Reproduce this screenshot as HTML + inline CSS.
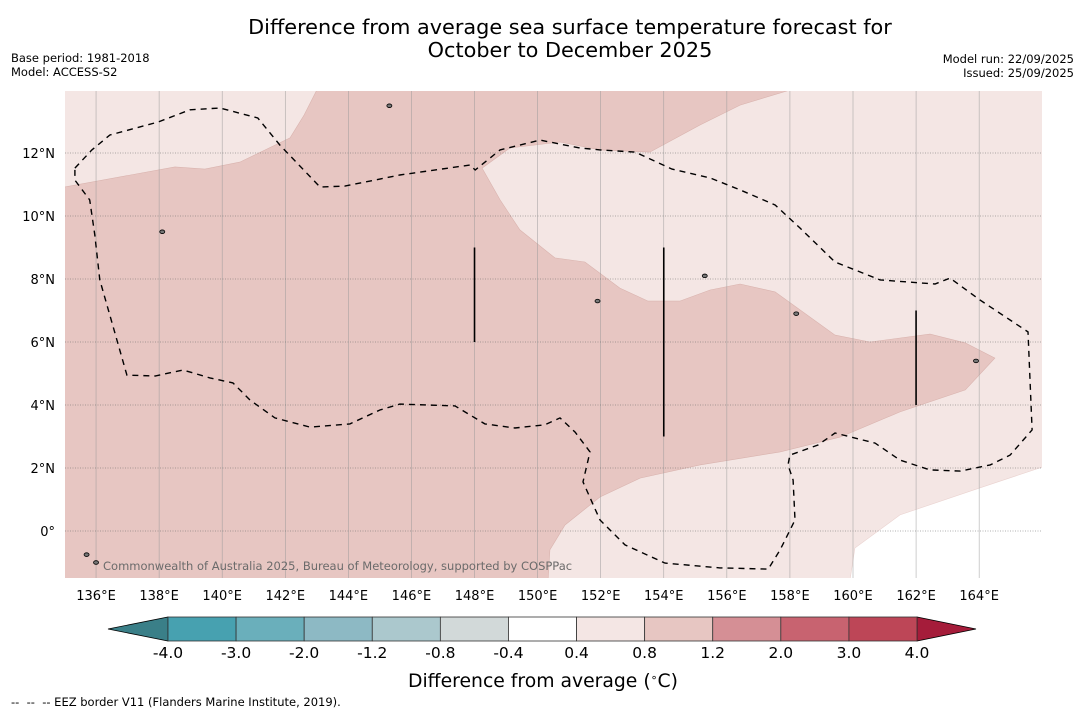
<!DOCTYPE html>
<html><head><meta charset="utf-8"><style>
body{margin:0;background:#fff;width:1085px;height:713px;overflow:hidden;font-family:"DejaVu Sans","Liberation Sans",sans-serif}
</style></head><body>
<svg id="s" width="1085" height="713" xmlns="http://www.w3.org/2000/svg" font-family="DejaVu Sans, Liberation Sans, sans-serif">
<text x="570" y="34" font-size="20.8" text-anchor="middle">Difference from average sea surface temperature forecast for</text>
<text x="570" y="57" font-size="20.8" text-anchor="middle">October to December 2025</text>
<text x="11" y="62" font-size="11.5">Base period: 1981-2018</text>
<text x="11" y="76" font-size="11.5">Model: ACCESS-S2</text>
<text x="1074" y="63" font-size="11.5" text-anchor="end">Model run: 22/09/2025</text>
<text x="1074" y="77" font-size="11.5" text-anchor="end">Issued: 25/09/2025</text>
<defs><clipPath id="mc"><rect x="65" y="91" width="977" height="487"/></clipPath></defs>
<g id="map" clip-path="url(#mc)"></g>
<g id="ax"></g>
<g id="cb"></g>
<text x="543" y="687" font-size="18.8" text-anchor="middle">Difference from average (<tspan baseline-shift="super" font-size="11">∘</tspan>C)</text>
<text x="11" y="706" font-size="11.5" xml:space="preserve" style="white-space:pre">--  --  -- EEZ border V11 (Flanders Marine Institute, 2019).</text>
</svg>
<script>
const lonTicks=[136,138,140,142,144,146,148,150,152,154,156,158,160,162,164];
const latTicks=[0,2,4,6,8,10,12];
const lightNW=[[135,10.92],[138.5,11.56],[139.45,11.49],[140.56,11.71],[142.15,12.48],[142.6,13.21],[143.1,14.2],[135,14.2]];
const lightMain=[[157.91,14.2],[157.91,13.97],[156.42,13.52],[155.15,12.89],[153.56,12.03],[151.98,12.1],[150.71,12.35],[149.12,12.16],[148.24,11.52],[148.81,10.51],[149.44,9.56],[150.55,8.67],[151.5,8.54],[152.61,7.71],[153.5,7.3],[154.51,7.3],[155.47,7.65],[156.42,7.84],[157.53,7.59],[159.43,6.22],[160.54,6.0],[162.44,6.25],[163.56,5.97],[164.5,5.49],[163.56,4.48],[161.49,3.78],[159.59,2.98],[157.69,2.51],[155.15,2.1],[153.25,1.68],[151.98,1.08],[150.87,0.19],[150.39,-0.6],[150.33,-1.6],[166.2,-1.6],[166.2,14.2]];
const whiteSE=[[159.9,-1.6],[160.06,-0.54],[161.49,0.51],[164.03,1.37],[166.0,2.03],[166.2,2.03],[166.2,-1.6]];
const eez=[[135.33,11.52],[135.87,12.1],[136.44,12.57],[137.96,12.98],[138.98,13.37],[139.93,13.43],[141.13,13.11],[141.83,12.25],[143.1,10.92],[143.89,10.95],[145.63,11.3],[147.86,11.62],[148.02,11.46],[148.81,12.1],[150.08,12.41],[151.34,12.16],[151.98,12.1],[153.09,12.03],[154.26,11.49],[155.47,11.21],[156.42,10.83],[157.53,10.35],[158.32,9.62],[159.43,8.54],[160.86,7.97],[162.6,7.84],[163.08,8.03],[164.03,7.33],[165.55,6.32],[165.68,3.21],[164.98,2.41],[164.35,2.1],[163.4,1.9],[162.44,1.94],[161.49,2.25],[160.7,2.79],[159.43,3.11],[158.89,2.73],[158.0,2.41],[157.94,2.1],[158.1,1.62],[158.16,0.35],[157.69,-0.6],[157.31,-1.21],[155.78,-1.17],[154.04,-1.02],[152.77,-0.44],[151.98,0.35],[151.44,1.56],[151.66,2.51],[151.19,3.14],[150.71,3.59],[150.23,3.37],[149.28,3.27],[148.33,3.4],[147.38,3.97],[145.63,4.03],[145.0,3.84],[144.05,3.4],[142.78,3.3],[141.67,3.59],[140.88,4.16],[140.34,4.7],[139.61,4.86],[138.76,5.11],[137.87,4.92],[136.98,4.95],[136.12,7.97],[135.96,9.4],[135.8,10.51],[135.33,11.14],[135.33,11.52]];
const markers=[[148,6,9],[154,3,9],[162,4,7]];
const islands=[[135.7,-0.75],[136.0,-1.0],[138.1,9.5],[145.3,13.5],[151.9,7.3],[155.3,8.1],[158.2,6.9],[163.9,5.4]];
const cbLevels=["-4.0","-3.0","-2.0","-1.2","-0.8","-0.4","0.4","0.8","1.2","2.0","3.0","4.0"];
const cbColors=["#47a1b0","#6aafbb","#8db9c4","#abc8cd","#d2d9d9","#ffffff","#f4e6e4","#e7c6c2","#d58f95","#c86370","#bd4657"];
const cbUnder="#3a7f88", cbOver="#a51c3a";

const NS="http://www.w3.org/2000/svg";
const X=lon=>64.5+(lon-135)*31.54, Y=lat=>531-lat*31.5;
function mk(t,a,p){const e=document.createElementNS(NS,t);for(const k in a)e.setAttribute(k,a[k]);p.appendChild(e);return e;}
const pts=arr=>arr.map(p=>X(p[0]).toFixed(1)+","+Y(p[1]).toFixed(1)).join(" ");
const map=document.getElementById('map'),ax=document.getElementById('ax'),cb=document.getElementById('cb');
let e=mk('rect',{x:65,y:91,width:977,height:487,fill:'#e7c6c2'},map);


e=mk('polygon',{points:pts(lightNW),fill:'#f4e6e4',stroke:'#d9b3ae','stroke-width':0.6},map);


e=mk('polygon',{points:pts(lightMain),fill:'#f4e6e4',stroke:'#d9b3ae','stroke-width':0.6},map);


e=mk('polygon',{points:pts(whiteSE),fill:'#ffffff',stroke:'#ead3d0','stroke-width':0.6},map);


lonTicks.forEach(l=>{
 e=mk('line',{x1:X(l),x2:X(l),y1:91,y2:578,stroke:'#999','stroke-width':0.6,opacity:0.8},map);
 
 
 e=mk('text',{x:X(l),y:600,'font-size':13,'text-anchor':'middle'},ax);e.textContent=l+"°E";
 
 
});
latTicks.forEach(l=>{
 e=mk('line',{x1:65,x2:1042,y1:Y(l),y2:Y(l),stroke:'#666','stroke-width':0.6,'stroke-dasharray':'1,1.5'},map);
 
 
 e=mk('text',{x:55,y:Y(l)+5,'font-size':13,'text-anchor':'end'},ax);e.textContent=l===0?"0°":l+"°N";
 
 
});
e=mk('polyline',{points:pts(eez),fill:'none',stroke:'#000','stroke-width':1.4,'stroke-dasharray':'6,5'},map);


markers.forEach(m=>{
 e=mk('line',{x1:X(m[0]),x2:X(m[0]),y1:Y(m[2]),y2:Y(m[1]),stroke:'#000','stroke-width':1.6},map);
 
 
});
islands.forEach(p=>{
 e=mk('ellipse',{cx:X(p[0]),cy:Y(p[1]),rx:2.5,ry:1.8,fill:'#777',stroke:'#000','stroke-width':0.8},map);
 
 
});
e=mk('text',{x:103,y:570,'font-size':11.5,fill:'#6b6b6b'},map);e.textContent="Commonwealth of Australia 2025, Bureau of Meteorology, supported by COSPPac";


const cx0=168,cx1=917,cy0=617,cy1=641,bw=(cx1-cx0)/cbColors.length;
e=mk('polygon',{points:`108,629 ${cx0},${cy0} ${cx0},${cy1}`,fill:cbUnder,stroke:'#000','stroke-width':0.8},cb);


e=mk('polygon',{points:`976,629 ${cx1},${cy0} ${cx1},${cy1}`,fill:cbOver,stroke:'#000','stroke-width':0.8},cb);


cbColors.forEach((c,i)=>{
 e=mk('rect',{x:cx0+i*bw,y:cy0,width:bw,height:cy1-cy0,fill:c,stroke:'#333','stroke-width':0.8},cb);
 
 
});
cbLevels.forEach((t,i)=>{
 e=mk('text',{x:cx0+i*bw,y:658,'font-size':15.5,'text-anchor':'middle'},cb);e.textContent=t;
 
 
});
</script>
</body></html>
